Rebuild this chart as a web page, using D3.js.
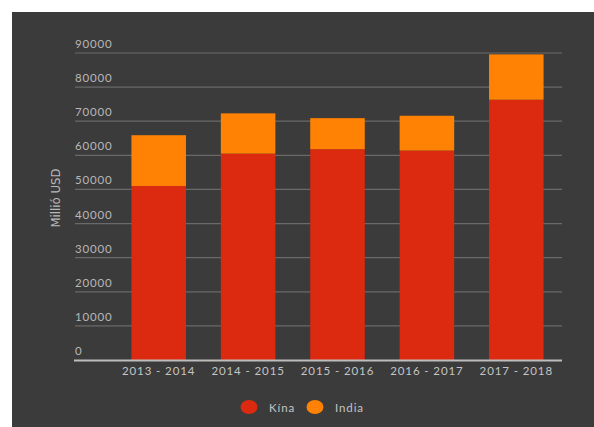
<!DOCTYPE html>
<html>
<head>
<meta charset="utf-8">
<script src="https://cdn.jsdelivr.net/npm/d3@7"></script>
<style>
  body { margin: 0; background: #fff; }
  text { font-family: Lato, "Open Sans", sans-serif; }
</style>
</head>
<body>
<div id="chart"></div>
<script>
// data
var periods = ["2013 - 2014", "2014 - 2015", "2015 - 2016", "2016 - 2017", "2017 - 2018"];
var kina = [51000, 60500, 61800, 61400, 76300];
var india = [14900, 11800, 9100, 10200, 13300];
var seriesNames = ["Kína", "India"];
var seriesColors = ["#db2a10", "#ff8205"];
var yTicks = [0, 10000, 20000, 30000, 40000, 50000, 60000, 70000, 80000, 90000];

var width = 594,
    height = 427;

var svg = d3.select("#chart").append("svg")
    .attr("width", width)
    .attr("height", height);

// dark panel
svg.append("rect")
    .attr("x", 12).attr("y", 12)
    .attr("width", width - 12).attr("height", height - 12)
    .attr("fill", "#3b3b3b");

var x = d3.scaleBand()
    .domain(periods)
    .range([114, 561])
    .paddingInner(0.39)
    .paddingOuter(0.195);

var y = d3.scaleLinear()
    .domain([0, 90000])
    .range([360, 53]);

// gridlines + tick labels
var grid = svg.append("g");
grid.selectAll("line")
    .data(yTicks.filter(function(d) { return d > 0; }))
    .enter().append("line")
    .attr("x1", 75).attr("x2", 562)
    .attr("y1", function(d) { return y(d); })
    .attr("y2", function(d) { return y(d); })
    .attr("stroke", "#6a6a6a")
    .attr("stroke-width", 1.2);

grid.selectAll("text")
    .data(yTicks)
    .enter().append("text")
    .attr("x", 75)
    .attr("y", function(d) { return y(d) - 5; })
    .attr("fill", "#b8b8b8")
    .style("font-size", "11.5px")
    .style("letter-spacing", "0.8px")
    .text(function(d) { return d; });

// stacked bars
var rows = periods.map(function(p, i) { return { period: p, "Kína": kina[i], "India": india[i] }; });
var stack = d3.stack().keys(seriesNames)(rows);

svg.append("g").selectAll("g")
    .data(stack)
    .enter().append("g")
    .attr("fill", function(d, i) { return seriesColors[i]; })
    .selectAll("rect")
    .data(function(d) { return d; })
    .enter().append("rect")
    .attr("x", function(d) { return x(d.data.period); })
    .attr("width", x.bandwidth())
    .attr("y", function(d) { return y(d[1]); })
    .attr("height", function(d) { return y(d[0]) - y(d[1]); });

// baseline
svg.append("line")
    .attr("x1", 74).attr("x2", 562)
    .attr("y1", y(0) + 0.5).attr("y2", y(0) + 0.5)
    .attr("stroke", "#bdbdbd")
    .attr("stroke-width", 2);

// x labels
svg.append("g").selectAll("text")
    .data(periods)
    .enter().append("text")
    .attr("x", function(d) { return x(d) + x.bandwidth() / 2; })
    .attr("y", 375)
    .attr("text-anchor", "middle")
    .attr("fill", "#c4c4c4")
    .style("font-size", "11.5px")
    .style("letter-spacing", "0.9px")
    .text(function(d) { return d; });

// y axis title
svg.append("text")
    .attr("transform", "translate(60,198) rotate(-90)")
    .attr("text-anchor", "middle")
    .attr("fill", "#b8b8b8")
    .style("font-size", "13px")
    .style("font-family", "'Liberation Sans Narrow', 'DejaVu Sans Condensed', sans-serif")
    .text("Millió USD");

// legend
var legendX = [249, 315];
var legend = svg.append("g").selectAll("g")
    .data(seriesNames)
    .enter().append("g")
    .attr("transform", function(d, i) { return "translate(" + legendX[i] + ",407)"; });

legend.append("ellipse")
    .attr("rx", 8.5).attr("ry", 7)
    .attr("fill", function(d, i) { return seriesColors[i]; });

legend.append("text")
    .attr("x", 20)
    .attr("y", 4.5)
    .attr("fill", "#c4c4c4")
    .style("font-size", "11.5px")
    .style("letter-spacing", "0.9px")
    .text(function(d) { return d; });
</script>
</body>
</html>
